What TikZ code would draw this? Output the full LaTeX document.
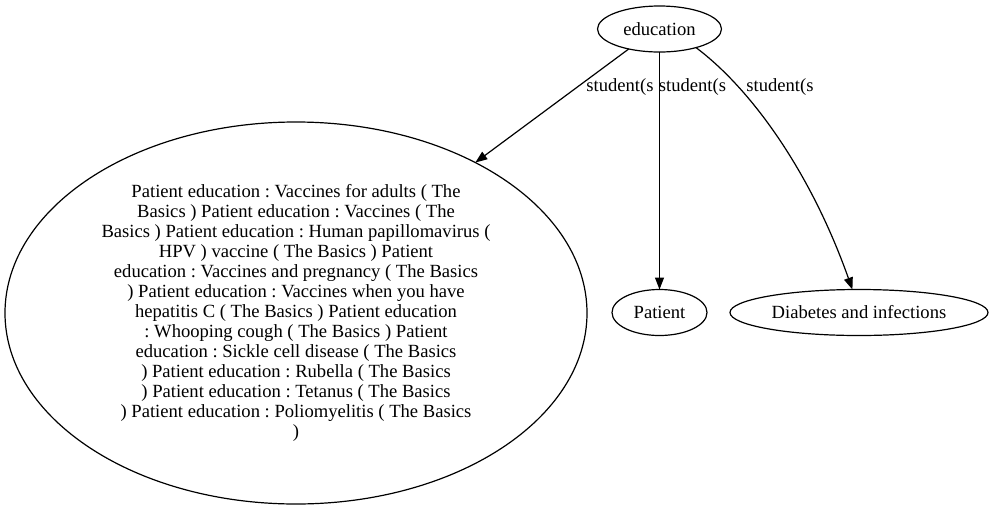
\documentclass[tikz,border=0pt]{standalone}
\usepackage{fontspec}
\setmainfont{Liberation Serif}
\usepackage{tikz}
\usetikzlibrary{shapes.geometric,arrows.meta}
\frenchspacing

\begin{document}
\begin{tikzpicture}[x=1pt,y=-1pt,outer sep=0pt,line width=1.2pt,
	ovalb/.style={
		draw=black,
		ellipse,
		inner sep=0pt,
		align=center,
		font={\fontsize{18.6}{20}\selectfont}},
	edgel/.style={font={\fontsize{18.6}{20}\selectfont},inner sep=0pt},
	arr/.style={-{Triangle[length=12pt,width=9pt]}},
	]
	\useasboundingbox (0,0) rectangle (993,509);
	\node[ovalb,minimum width=124pt,minimum height=46pt] (EDU) at (659.5,29) {education};
	\node[ovalb,minimum width=582pt,minimum height=382pt] (VAC) at (296,313) {Patient education : Vaccines for adults ( The\\
		Basics ) Patient education : Vaccines ( The\\
		Basics ) Patient education : Human papillomavirus (\\
		HPV ) vaccine ( The Basics ) Patient\\
		education : Vaccines and pregnancy ( The Basics\\
		) Patient education : Vaccines when you have\\
		hepatitis C ( The Basics ) Patient education\\
		: Whooping cough ( The Basics ) Patient\\
		education : Sickle cell disease ( The Basics\\
		) Patient education : Rubella ( The Basics\\
		) Patient education : Tetanus ( The Basics\\
		) Patient education : Poliomyelitis ( The Basics\\
		)};
	\node[ovalb,minimum width=95pt,minimum height=46pt] (PAT) at (659.5,312.5) {Patient};
	\node[ovalb,minimum width=258pt,minimum height=46pt] (DIA) at (859,312.5) {Diabetes and infections};
	
	\draw[arr] (EDU.213) -- (VAC.40);
	\draw[arr] (EDU) -- (PAT);
	\draw[arr] (EDU.333) .. controls (750,88) and (810,170) .. (DIA.106);
	
	\node[edgel] (LA) at (620,87) {student(s};
	\node[edgel] (LB) at (692.5,87) {student(s};
	\node[edgel] (LC) at (780,87) {student(s};
\end{tikzpicture}
\end{document}
